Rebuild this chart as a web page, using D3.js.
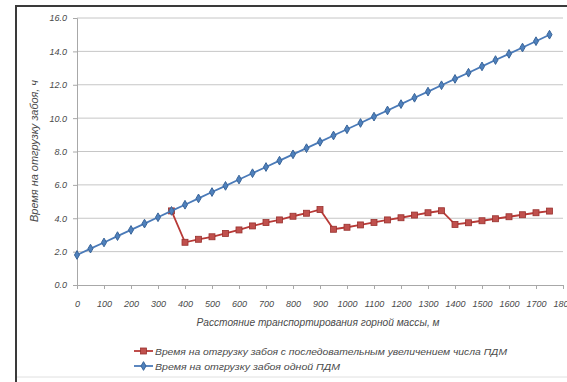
<!DOCTYPE html>
<html><head><meta charset="utf-8">
<script src="https://cdn.jsdelivr.net/npm/d3@7"></script>
<style>body{margin:0;background:#fff}svg{display:block}text{font-family:"Liberation Sans",Arial,sans-serif;font-style:italic;fill:#4a4a4a}</style>
</head><body>
<script>
const distances = [0,50,100,150,200,250,300,350,400,450,500,550,600,650,700,750,800,850,900,950,1000,1050,1100,1150,1200,1250,1300,1350,1400,1450,1500,1550,1600,1650,1700,1750];
const singleLHD = [1.8,2.18,2.55,2.93,3.3,3.68,4.06,4.44,4.81,5.19,5.57,5.94,6.32,6.7,7.07,7.45,7.83,8.2,8.58,8.96,9.33,9.71,10.09,10.46,10.84,11.22,11.59,11.97,12.35,12.72,13.1,13.48,13.85,14.23,14.61,15.0];
const increasingLHD = [null,null,null,null,null,null,null,4.44,2.56,2.74,2.89,3.09,3.3,3.54,3.74,3.9,4.12,4.3,4.52,3.34,3.46,3.6,3.75,3.9,4.03,4.19,4.33,4.45,3.63,3.73,3.85,3.97,4.09,4.21,4.33,4.43];
const yTicks = [0,2,4,6,8,10,12,14,16];
const xTicks = [0,100,200,300,400,500,600,700,800,900,1000,1100,1200,1300,1400,1500,1600,1700,1800];
const seriesNames = ["Время на  отгрузку  забоя  с  последовательным увеличением числа ПДМ","Время на  отгрузку  забоя одной ПДМ"];
const yTitle = "Время на  отгрузку забоя,  ч";
const xTitle = "Расстояние транспортирования горной массы, м";

const W=567,H=382;
const svg=d3.select("body").append("svg").attr("width",W).attr("height",H);
// frame
svg.append("rect").attr("x",16).attr("y",6).attr("width",W+10).attr("height",371).attr("fill","#fff").attr("stroke","#e0e0e0").attr("stroke-width",1);
svg.append("line").attr("x1",16).attr("x2",W).attr("y1",6).attr("y2",6).attr("stroke","#3a3a3a").attr("stroke-width",2);
svg.append("line").attr("x1",16).attr("x2",16).attr("y1",5).attr("y2",H).attr("stroke","#3a3a3a").attr("stroke-width",2);

const x=d3.scaleLinear().domain([0,1800]).range([77,563]);
const y=d3.scaleLinear().domain([0,16]).range([285,18]);

// gridlines
svg.append("g").selectAll("line").data(yTicks.slice(1)).join("line")
 .attr("x1",77).attr("x2",563).attr("y1",d=>y(d)).attr("y2",d=>y(d)).attr("stroke","#c6c6c6").attr("stroke-width",1);

// axes
const yAxis=svg.append("g").attr("transform","translate(77,0)").call(d3.axisLeft(y).tickValues(yTicks).tickFormat(d3.format(".1f")).tickSize(4).tickPadding(5));
const xAxis=svg.append("g").attr("transform","translate(0,285)").call(d3.axisBottom(x).tickValues(xTicks).tickFormat(d=>d).tickSize(4).tickPadding(12));
[yAxis,xAxis].forEach(a=>{a.select(".domain").attr("stroke","#a8a8a8");a.selectAll(".tick line").attr("stroke","#a8a8a8");a.selectAll("text").attr("font-size",9).attr("fill","#4a4a4a").style("font-family","Liberation Sans, Arial").style("font-style","italic");});
yAxis.selectAll("text").attr("dx",-1);

const line=d3.line().defined(d=>d!==null).x((d,i)=>x(distances[i])).y(d=>y(d));
const diamond=d3.symbol().type(d3.symbolDiamond).size(22);
// red series
svg.append("path").datum(increasingLHD).attr("d",line).attr("fill","none").attr("stroke","#b83a37").attr("stroke-width",1.8);
svg.append("g").selectAll("rect").data(increasingLHD.map((v,i)=>({v,i})).filter(d=>d.v!==null)).join("rect")
 .attr("x",d=>x(distances[d.i])-3).attr("y",d=>y(d.v)-3).attr("width",6).attr("height",6)
 .attr("fill","#c0504d").attr("stroke","#98302d").attr("stroke-width",0.8);
// blue series
svg.append("path").datum(singleLHD).attr("d",line).attr("fill","none").attr("stroke","#4a7ab8").attr("stroke-width",1.8);
svg.append("g").selectAll("path").data(singleLHD).join("path")
 .attr("transform",(d,i)=>`translate(${x(distances[i])},${y(d)})`).attr("d",diamond)
 .attr("fill","#4f81bd").attr("stroke","#3a6599").attr("stroke-width",1);

// titles
svg.append("text").attr("transform","translate(38,151) rotate(-90)").attr("text-anchor","middle").attr("font-size",10).attr("textLength",142).attr("lengthAdjust","spacingAndGlyphs").text(yTitle);
svg.append("text").attr("x",318).attr("y",326).attr("text-anchor","middle").attr("font-size",10).attr("textLength",243).attr("lengthAdjust","spacingAndGlyphs").text(xTitle);

// legend
const leg=svg.append("g");
const legY=[351,366], legCol=[["#b83a37","#c0504d"],["#4a7ab8","#4f81bd"]], legLen=[352,185];
legY.forEach((ly,i)=>{
  leg.append("line").attr("x1",134).attr("x2",153).attr("y1",ly).attr("y2",ly).attr("stroke",legCol[i][0]).attr("stroke-width",1.8);
  if(i===0) leg.append("rect").attr("x",140.5).attr("y",ly-3).attr("width",6).attr("height",6).attr("fill",legCol[i][1]).attr("stroke","#98302d").attr("stroke-width",0.8);
  else leg.append("path").attr("transform",`translate(143.5,${ly})`).attr("d",diamond).attr("fill",legCol[i][1]).attr("stroke","#3a6599").attr("stroke-width",1);
  leg.append("text").attr("x",155).attr("y",ly+3.5).attr("font-size",9.5).attr("textLength",legLen[i]).attr("lengthAdjust","spacingAndGlyphs").text(seriesNames[i]);
});
</script>
</body></html>
